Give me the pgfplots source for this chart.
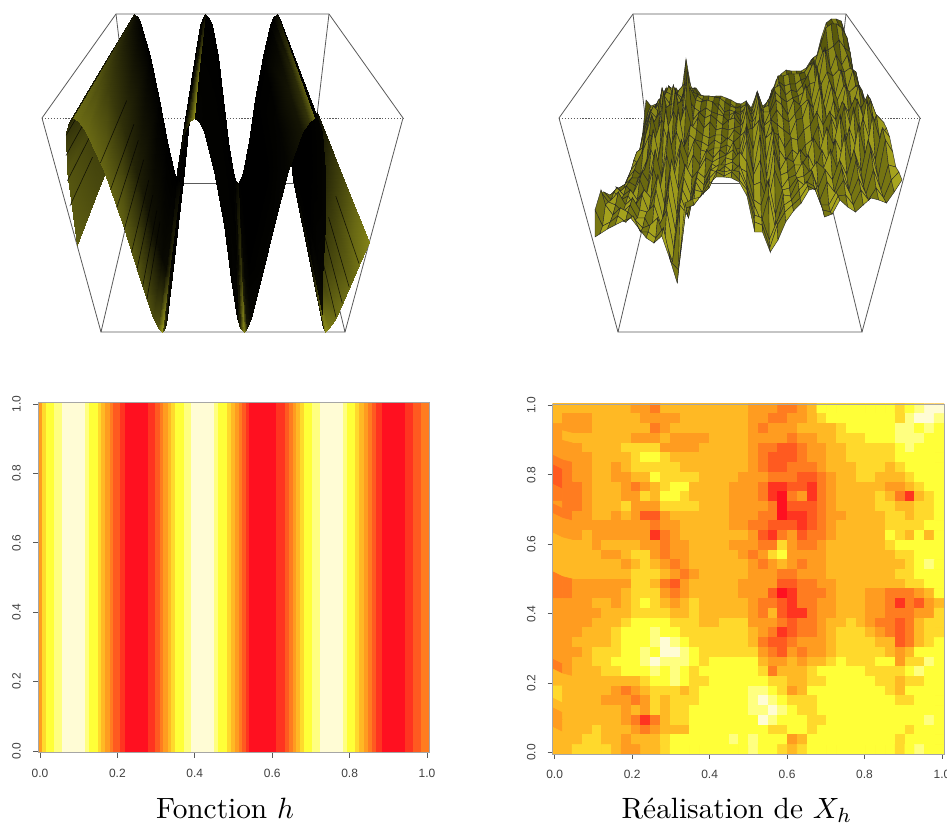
\documentclass[border=0pt]{standalone}
\usepackage{fontspec}
\usepackage{pgfplots}
\usepackage{pgfplotstable}
\pgfplotsset{compat=1.18}
\newfontfamily\ticksf{Liberation Sans}
\definecolor{boxc}{HTML}{5A5A5A}
\definecolor{hk0}{HTML}{FF1020}
\definecolor{hk1}{HTML}{FF3420}
\definecolor{hk2}{HTML}{FF5A20}
\definecolor{hk3}{HTML}{FF7C20}
\definecolor{hk4}{HTML}{FF9C20}
\definecolor{hk5}{HTML}{FFB924}
\definecolor{hk6}{HTML}{FFD92C}
\definecolor{hk7}{HTML}{FFFF38}
\definecolor{hk8}{HTML}{FFFF80}
\definecolor{hk9}{HTML}{FFFCD5}
\pgfplotsset{
  colormap={hk}{rgb255=(255,16,32) rgb255=(255,52,32) rgb255=(255,90,32) rgb255=(255,124,32) rgb255=(255,156,32) rgb255=(255,185,36) rgb255=(255,217,44) rgb255=(255,255,56) rgb255=(255,255,128) rgb255=(255,252,213)},
  colormap={ol}{rgb255(0)=(0,0,0) rgb255(1)=(105,105,20) rgb255(2)=(190,190,30)},
  colormap={yl}{rgb255(0)=(85,85,10) rgb255(1)=(252,247,50)},
  heat/.style={
    scale only axis, anchor=south west, width=293.5pt, height=262.5pt,
    xtick={0,0.2,0.4,0.6,0.8,1}, ytick={0,0.2,0.4,0.6,0.8,1},
    tick pos=left, tick align=outside, major tick length=3.75pt,
    tick style={color=boxc,line width=0.5pt},
    axis line style={color=gray!70,line width=0.5pt},
    /pgf/number format/fixed, /pgf/number format/fixed zerofill, /pgf/number format/precision=1,
    /pgf/number format/assume math mode=true,
    tick label style={font=\ticksf\fontsize{9}{10}\selectfont,color=black!75,inner sep=0pt},
    xticklabel style={yshift=-8.5pt},
    yticklabel style={xshift=-9pt,rotate=90,anchor=south},
    axis on top,
  },
}
\newcommand{\band}[3]{\addplot[fill=hk#3,draw=none,forget plot] coordinates {(#1,-0.1)(#2,-0.1)(#2,1.1)(#1,1.1)} --cycle;}
\newcommand{\Lx}{222.5+(2*\thisrow{u}-1)*((1-\thisrow{v})*(\thisrow{z}*180.5+(1-\thisrow{z})*122)+\thisrow{v}*(\thisrow{z}*106.5+(1-\thisrow{z})*86.5))}
\newcommand{\Ly}{(1-\thisrow{v})*(\thisrow{z}*118+(1-\thisrow{z})*332)+\thisrow{v}*(\thisrow{z}*14+(1-\thisrow{z})*183)}
\newcommand{\lobe}[1]{\addplot[surf,shader=interp,mesh/cols=3,colormap name=ol,point meta=\thisrow{c},point meta min=0,point meta max=2] table[x expr=\Lx,y expr=\Ly] {#1};}
\newcommand{\streak}[3]{\addplot[black,opacity=0.75,line width=0.45pt] table[row sep=\\,x expr=\Lx,y expr=\Ly] {u v z\\ #1 0 #2\\ #1 #3 #2\\};}
\pgfplotstableread{
u v z c
0 0 .405 .9
0 .4 .405 .7
0 1 .405 .5
.0303 0 .75 .8
.0303 .4 .75 .6
.0303 1 .75 .3
.058 0 .933 .5
.058 .4 .933 .4
.058 1 .933 .2
.0722 0 .983 .3
.0722 .4 .983 .25
.0722 1 .983 .1
.086 0 1 .25
.086 .4 1 .2
.086 1 1 .1
}\lobeA
\pgfplotstableread{
u v z c
.086 0 1 1.05
.086 .4 1 .8
.086 1 1 .15
.0999 0 .983 1.0
.0999 .4 .983 .7
.0999 1 .983 .05
.1138 0 .933 1.0
.1138 .4 .933 .6
.1138 1 .933 .02
.1417 0 .75 .95
.1417 .4 .75 .45
.1417 1 .75 0
.1695 0 .5 .9
.1695 .4 .5 .3
.1695 1 .5 0
.1973 0 .25 .8
.1973 .4 .25 .15
.1973 1 .25 0
.2252 0 .067 .7
.2252 .4 .067 .08
.2252 1 .067 0
.2391 0 .017 .8
.2391 .4 .017 .1
.2391 1 .017 0
.253 0 0 1.5
.253 .4 0 .4
.253 1 0 .05
}\lobeB
\pgfplotstableread{
u v z c
.253 0 0 .9
.253 .4 0 .2
.253 1 0 0
.2669 0 .017 .3
.2669 .4 .017 .05
.2669 1 .017 0
.2808 0 .067 .1
.2808 .4 .067 .02
.2808 1 .067 0
.3087 0 .25 .03
.3087 .4 .25 0
.3087 1 .25 0
.3365 0 .5 .03
.3365 .4 .5 0
.3365 1 .5 0
.3643 0 .75 .03
.3643 .4 .75 .02
.3643 1 .75 0
.3922 0 .933 .2
.3922 .4 .933 .05
.3922 1 .933 0
.4061 0 .983 .6
.4061 .4 .983 .3
.4061 1 .983 0
.42 0 1 1.4
.42 .4 1 1.0
.42 1 1 .1
}\lobeC
\pgfplotstableread{
u v z c
.42 0 1 .05
.42 .4 1 .02
.42 1 1 0
.4339 0 .983 .03
.4339 .4 .983 .02
.4339 1 .983 0
.4478 0 .933 .02
.4478 .4 .933 .02
.4478 1 .933 0
.4757 0 .75 .02
.4757 .4 .75 .02
.4757 1 .75 0
.5035 0 .5 .02
.5035 .4 .5 .02
.5035 1 .5 0
.5313 0 .25 .02
.5313 .4 .25 .02
.5313 1 .25 0
.5592 0 .067 .05
.5592 .4 .067 .02
.5592 1 .067 0
.5731 0 .017 .4
.5731 .4 .017 .1
.5731 1 .017 0
.587 0 0 1.4
.587 .4 0 .5
.587 1 0 .1
}\lobeD
\pgfplotstableread{
u v z c
.587 0 0 1.2
.587 .4 0 .3
.587 1 0 0
.6009 0 .017 .2
.6009 .4 .017 .05
.6009 1 .017 0
.6148 0 .067 .05
.6148 .4 .067 0
.6148 1 .067 0
.6427 0 .25 .03
.6427 .4 .25 0
.6427 1 .25 0
.6705 0 .5 .03
.6705 .4 .5 0
.6705 1 .5 0
.6983 0 .75 .05
.6983 .4 .75 .03
.6983 1 .75 0
.7262 0 .933 .2
.7262 .4 .933 .2
.7262 1 .933 0
.7401 0 .983 .5
.7401 .4 .983 .4
.7401 1 .983 0
.754 0 1 1.0
.754 .4 1 .8
.754 1 1 .1
}\lobeE
\pgfplotstableread{
u v z c
.754 0 1 .3
.754 .4 1 .1
.754 1 1 0
.7679 0 .983 .1
.7679 .4 .983 .02
.7679 1 .983 0
.7818 0 .933 .03
.7818 .4 .933 0
.7818 1 .933 0
.8097 0 .75 .03
.8097 .4 .75 0
.8097 1 .75 0
.8375 0 .5 .03
.8375 .4 .5 0
.8375 1 .5 0
.8653 0 .25 .05
.8653 .4 .25 0
.8653 1 .25 0
.8932 0 .067 .15
.8932 .4 .067 .02
.8932 1 .067 0
.9071 0 .017 .3
.9071 .4 .017 .05
.9071 1 .017 0
.921 0 0 1.3
.921 .4 0 .2
.921 1 0 0
}\lobeF
\pgfplotstableread{
u v z c
.921 0 0 1.5
.921 .4 0 .45
.921 1 0 .02
.9349 0 .017 1.2
.9349 .4 .017 .45
.9349 1 .017 .02
.9488 0 .067 1.05
.9488 .4 .067 .55
.9488 1 .067 .02
.9766 0 .25 1.0
.9766 .4 .25 .65
.9766 1 .25 .05
1 0 .42 1.3
1 .4 .42 .8
1 1 .42 .1
}\lobeG
\begin{document}
\begin{tikzpicture}
\useasboundingbox (0,0) rectangle (710.25pt,618pt);
\begin{axis}[at={(0pt,0pt)},anchor=south west,scale only axis,width=710.25pt,height=618pt,
  xmin=0,xmax=947,ymin=0,ymax=824,y dir=reverse,hide axis,clip=false]
% boite de gauche puis de droite
\addplot[boxc,dash pattern=on 0.9pt off 1.3pt,line width=0.55pt] coordinates {(42,118)(403,118)};
\addplot[boxc,line width=0.6pt] coordinates {(136,183)(309,183)};
\addplot[boxc,line width=0.6pt] coordinates {(116,14)(136,183)(101,332)(345,332)(309,183)(329,14)};
\addplot[boxc,line width=0.6pt] coordinates {(101,332)(42,118)(116,14)(329,14)(403,118)(345,332)};
\addplot[boxc,dash pattern=on 0.9pt off 1.3pt,line width=0.55pt] coordinates {(559,118)(920,118)};
\addplot[boxc,line width=0.6pt] coordinates {(653,183)(826,183)};
\addplot[boxc,line width=0.6pt] coordinates {(633,14)(653,183)(618,332)(862,332)(826,183)(846,14)};
\addplot[boxc,line width=0.6pt] coordinates {(618,332)(559,118)(633,14)(846,14)(920,118)(862,332)};
% surface h
\lobe{\lobeA}
\streak{.012}{.588}{.4}
\streak{.025}{.706}{.4}
\streak{.04}{.824}{.4}
\streak{.055}{.919}{.4}
\lobe{\lobeG}
\streak{.95}{.07}{.5}
\streak{.961}{.135}{.5}
\streak{.9716}{.21}{.5}
\streak{.985}{.32}{.5}
\lobe{\lobeF}
\lobe{\lobeE}
\lobe{\lobeD}
\lobe{\lobeC}
\lobe{\lobeB}
\streak{.137}{.79}{.55}
\streak{.152}{.665}{.55}
\streak{.161}{.58}{.55}
\streak{.172}{.477}{.55}
\streak{.183}{.37}{.55}
\streak{.192}{.29}{.55}
\streak{.2024}{.21}{.55}
\streak{.2107}{.15}{.55}
% realisation : rangees du fond vers l'avant, ordonnees en pixels
\addplot[surf,shader=flat corner,draw=black!85,line width=0.3pt,mesh/cols=41,colormap name=yl,
  point meta={mod(mod(\coordindex,41),2)*0.55+floor(\coordindex/41)/18*0.45},point meta min=0,point meta max=1]
 table[header=false,row sep=\\,
  x expr={592+3*(18-floor(\coordindex/41))+mod(\coordindex,41)/40*(310-6.1*(18-floor(\coordindex/41)))},
  y expr=\thisrowno{0}] {
100\\106\\104\\98\\88\\88\\88\\96\\59\\88\\88\\95\\97\\97\\96\\96\\98\\100\\103\\104\\101\\108\\95\\108\\103\\96\\80\\74\\70\\71\\71\\71\\68\\60\\58\\38\\23\\19\\19\\21\\37\\
130\\112\\112\\100\\98\\86\\96\\90\\84\\90\\88\\98\\100\\99\\100\\100\\104\\104\\108\\106\\106\\110\\100\\106\\106\\90\\82\\78\\76\\76\\76\\74\\70\\58\\54\\40\\28\\24\\26\\32\\60\\
160\\125\\110\\108\\100\\92\\95\\94\\98\\78\\92\\95\\96\\96\\97\\98\\102\\106\\108\\108\\104\\112\\93\\110\\102\\92\\76\\76\\74\\74\\74\\72\\64\\62\\45\\28\\24\\24\\28\\38\\80\\
164\\135\\122\\106\\112\\96\\104\\92\\100\\86\\96\\96\\100\\102\\104\\104\\112\\110\\112\\112\\108\\108\\102\\112\\100\\94\\82\\86\\84\\84\\80\\78\\66\\68\\52\\50\\46\\40\\48\\52\\88\\
168\\150\\128\\112\\118\\88\\112\\85\\105\\92\\88\\100\\102\\100\\102\\108\\115\\115\\112\\115\\105\\112\\92\\108\\105\\88\\85\\95\\90\\92\\85\\75\\62\\78\\48\\70\\55\\65\\55\\70\\95\\
172\\152\\148\\122\\122\\112\\108\\104\\104\\100\\100\\108\\112\\108\\112\\114\\116\\122\\112\\122\\112\\114\\104\\112\\112\\92\\98\\102\\98\\96\\92\\84\\82\\84\\72\\76\\70\\72\\68\\72\\100\\
178\\160\\165\\135\\115\\138\\92\\135\\90\\128\\70\\120\\112\\118\\115\\120\\125\\120\\118\\125\\102\\120\\95\\125\\112\\100\\105\\115\\100\\105\\85\\100\\70\\105\\80\\95\\70\\90\\70\\85\\105\\
184\\170\\162\\150\\135\\138\\120\\128\\112\\125\\105\\128\\118\\128\\122\\130\\128\\130\\128\\126\\118\\122\\112\\125\\120\\110\\118\\122\\114\\106\\100\\108\\88\\110\\86\\100\\86\\92\\86\\90\\110\\
190\\178\\170\\175\\160\\130\\158\\110\\150\\110\\145\\125\\130\\135\\138\\135\\135\\140\\130\\135\\110\\135\\100\\140\\120\\125\\130\\135\\120\\118\\100\\125\\90\\125\\100\\118\\85\\110\\85\\105\\115\\
188\\184\\178\\178\\170\\150\\165\\128\\148\\132\\150\\135\\140\\142\\146\\140\\144\\138\\142\\136\\130\\128\\120\\138\\132\\135\\148\\138\\140\\130\\125\\112\\125\\112\\120\\102\\112\\98\\108\\95\\117\\
187\\192\\182\\186\\172\\182\\150\\178\\130\\165\\140\\158\\140\\150\\152\\148\\148\\145\\150\\148\\125\\150\\118\\160\\128\\150\\160\\150\\155\\145\\140\\125\\148\\118\\135\\105\\128\\100\\120\\100\\118\\
190\\192\\186\\194\\180\\195\\168\\190\\155\\180\\150\\172\\155\\165\\150\\158\\150\\155\\142\\160\\128\\172\\135\\178\\138\\170\\158\\162\\150\\158\\138\\150\\128\\145\\115\\142\\108\\135\\100\\122\\120\\
196\\188\\195\\190\\200\\190\\198\\175\\205\\160\\190\\165\\178\\170\\158\\162\\158\\155\\150\\162\\140\\175\\160\\195\\150\\175\\172\\165\\165\\155\\170\\150\\165\\140\\155\\128\\148\\118\\140\\115\\122\\
195\\192\\200\\196\\206\\195\\212\\190\\218\\175\\215\\178\\195\\172\\178\\164\\168\\158\\160\\152\\162\\185\\182\\205\\170\\188\\178\\175\\162\\172\\162\\168\\150\\170\\135\\165\\125\\158\\115\\138\\128\\
192\\200\\192\\205\\198\\210\\212\\205\\225\\195\\230\\190\\205\\178\\185\\170\\165\\165\\162\\168\\172\\200\\205\\180\\215\\190\\188\\178\\176\\170\\188\\170\\180\\160\\175\\150\\172\\140\\160\\128\\137\\
192\\202\\205\\212\\205\\218\\218\\232\\225\\210\\250\\198\\218\\182\\194\\170\\172\\166\\172\\165\\185\\205\\222\\195\\232\\195\\196\\180\\186\\172\\200\\182\\192\\168\\190\\160\\186\\150\\178\\140\\152\\
190\\205\\215\\208\\212\\220\\228\\225\\218\\240\\262\\205\\215\\190\\192\\178\\170\\172\\170\\172\\188\\215\\218\\240\\222\\205\\200\\190\\182\\186\\205\\205\\192\\180\\196\\178\\194\\170\\190\\165\\167\\
210\\226\\222\\216\\222\\216\\232\\232\\238\\228\\262\\270\\208\\205\\195\\188\\172\\176\\172\\180\\190\\222\\225\\248\\225\\212\\205\\198\\186\\190\\210\\212\\196\\195\\205\\190\\200\\188\\198\\180\\172\\
237\\234\\229\\225\\221\\218\\228\\238\\243\\236\\258\\283\\203\\199\\197\\185\\177\\177\\178\\182\\196\\232\\232\\252\\240\\222\\211\\203\\190\\188\\217\\214\\200\\207\\212\\205\\198\\200\\203\\192\\180\\
};
\node[scale=2.2,anchor=base] at (axis cs:225,818) {Fonction $h$};
\node[scale=2.2,anchor=base] at (axis cs:737,818) {Réalisation de $X_h$};
\end{axis}
\begin{axis}[heat,at={(28.5pt,53.5pt)},xmin=-0.005,xmax=1.006,ymin=-0.005,ymax=1.004]
\band{-0.01}{0.005}{4}\band{0.005}{0.0154}{6}\band{0.0154}{0.0369}{7}\band{0.0369}{0.0558}{8}\band{0.0558}{0.117}{9}
\band{0.117}{0.128}{8}\band{0.128}{0.149}{7}\band{0.149}{0.158}{6}\band{0.158}{0.1686}{5}\band{0.1686}{0.18}{4}
\band{0.18}{0.19}{3}\band{0.19}{0.207}{2}\band{0.207}{0.2185}{1}\band{0.2185}{0.278}{0}\band{0.278}{0.298}{1}
\band{0.298}{0.309}{2}\band{0.309}{0.319}{3}\band{0.319}{0.330}{4}\band{0.330}{0.339}{5}\band{0.339}{0.349}{6}
\band{0.349}{0.371}{7}\band{0.371}{0.390}{8}\band{0.390}{0.450}{9}\band{0.450}{0.461}{8}\band{0.461}{0.483}{7}
\band{0.483}{0.493}{6}\band{0.493}{0.504}{5}\band{0.504}{0.515}{4}\band{0.515}{0.523}{3}\band{0.523}{0.532}{2}
\band{0.532}{0.541}{1}\band{0.541}{0.610}{0}\band{0.610}{0.633}{1}\band{0.633}{0.644}{2}\band{0.644}{0.655}{3}
\band{0.655}{0.662}{4}\band{0.662}{0.672}{5}\band{0.672}{0.6824}{6}\band{0.6824}{0.702}{7}\band{0.702}{0.724}{8}
\band{0.724}{0.784}{9}\band{0.784}{0.793}{8}\band{0.793}{0.814}{7}\band{0.814}{0.825}{6}\band{0.825}{0.836}{5}
\band{0.836}{0.847}{4}\band{0.847}{0.857}{3}\band{0.857}{0.868}{2}\band{0.868}{0.884}{1}\band{0.884}{0.943}{0}
\band{0.943}{0.965}{1}\band{0.965}{0.984}{2}\band{0.984}{1.01}{3}
\end{axis}
\begin{axis}[heat,at={(414.5pt,52.5pt)},xmin=-0.005,xmax=1.005,ymin=-0.004,ymax=1.004]
\addplot[fill=hk5,draw=none,forget plot] coordinates {(-0.1,-0.1)(1.1,-0.1)(1.1,1.1)(-0.1,1.1)} --cycle;
\addplot[matrix plot*,mesh/cols=40,colormap name=hk,colormap access=direct,point meta=\thisrowno{0}]
 table[header=false,row sep=\\,
  x expr={-0.005+(mod(\coordindex,40)+0.5)*1.01/40},
  y expr={1.004-(floor(\coordindex/40)+0.5)*1.008/36}] {
5\\5\\5\\5\\5\\5\\5\\5\\4\\4\\3\\5\\5\\5\\5\\5\\5\\5\\5\\5\\4\\4\\4\\3\\3\\4\\5\\7\\7\\7\\7\\7\\7\\7\\7\\6\\7\\8\\9\\9\\
5\\4\\4\\4\\5\\5\\5\\5\\5\\4\\4\\4\\4\\5\\5\\5\\5\\5\\5\\5\\4\\4\\3\\3\\4\\4\\5\\6\\7\\7\\7\\7\\7\\7\\7\\6\\8\\9\\9\\8\\
4\\4\\4\\4\\5\\5\\5\\5\\5\\5\\3\\4\\5\\5\\5\\5\\5\\5\\5\\5\\4\\3\\4\\4\\4\\5\\5\\5\\5\\6\\7\\7\\7\\7\\7\\8\\8\\7\\8\\7\\
4\\5\\5\\5\\5\\5\\5\\5\\4\\4\\4\\5\\4\\4\\4\\4\\5\\5\\5\\5\\4\\4\\4\\4\\3\\4\\4\\5\\5\\6\\6\\6\\7\\7\\7\\8\\8\\8\\7\\7\\
4\\4\\4\\5\\5\\5\\5\\6\\6\\6\\6\\4\\4\\4\\4\\5\\5\\5\\5\\5\\4\\3\\3\\2\\2\\3\\4\\4\\5\\5\\6\\6\\6\\6\\6\\7\\8\\7\\7\\7\\
4\\4\\4\\4\\5\\5\\5\\5\\6\\7\\7\\6\\5\\5\\5\\5\\5\\5\\5\\5\\4\\3\\2\\2\\2\\3\\4\\4\\5\\5\\6\\6\\6\\6\\6\\7\\7\\7\\7\\7\\
3\\3\\4\\4\\5\\5\\4\\5\\6\\6\\6\\6\\6\\5\\5\\5\\5\\5\\5\\5\\4\\3\\2\\2\\3\\3\\3\\4\\5\\5\\5\\6\\6\\6\\5\\6\\7\\7\\7\\7\\
2\\3\\4\\4\\5\\5\\4\\4\\5\\5\\7\\6\\6\\6\\6\\5\\5\\5\\5\\4\\4\\4\\3\\3\\3\\2\\2\\3\\4\\5\\5\\6\\6\\5\\5\\5\\6\\7\\7\\7\\
2\\3\\3\\4\\5\\5\\5\\4\\3\\4\\5\\6\\7\\7\\5\\5\\5\\5\\4\\4\\4\\3\\1\\1\\2\\2\\1\\3\\4\\5\\5\\5\\5\\5\\4\\4\\5\\6\\7\\7\\
3\\3\\3\\4\\5\\5\\5\\4\\4\\6\\5\\7\\7\\6\\5\\5\\5\\5\\4\\4\\4\\3\\1\\0\\3\\4\\1\\3\\4\\5\\5\\5\\5\\6\\5\\3\\1\\5\\6\\7\\
4\\3\\3\\4\\5\\5\\5\\6\\4\\4\\4\\6\\6\\6\\6\\5\\5\\5\\4\\4\\4\\4\\3\\0\\2\\2\\2\\3\\4\\5\\5\\5\\5\\6\\6\\5\\5\\6\\6\\7\\
3\\3\\4\\4\\5\\5\\4\\5\\4\\2\\2\\4\\5\\5\\5\\5\\5\\5\\4\\4\\4\\3\\3\\0\\1\\1\\2\\3\\4\\4\\5\\5\\5\\5\\6\\6\\5\\6\\6\\7\\
4\\4\\4\\4\\4\\4\\4\\4\\4\\4\\3\\4\\4\\5\\5\\5\\5\\5\\4\\4\\3\\3\\2\\2\\2\\1\\2\\3\\4\\5\\5\\5\\5\\5\\6\\6\\6\\6\\7\\7\\
4\\4\\4\\5\\4\\4\\4\\4\\4\\4\\1\\3\\4\\5\\5\\5\\5\\5\\5\\5\\4\\2\\1\\3\\4\\2\\3\\3\\4\\5\\5\\5\\5\\5\\7\\6\\5\\7\\5\\7\\
5\\5\\5\\5\\4\\5\\5\\5\\5\\4\\4\\3\\4\\4\\5\\5\\5\\5\\4\\4\\4\\3\\3\\6\\4\\3\\3\\4\\5\\5\\5\\5\\5\\5\\6\\7\\7\\7\\7\\7\\
5\\5\\5\\5\\5\\4\\4\\5\\6\\6\\4\\3\\4\\4\\5\\5\\5\\5\\5\\4\\3\\4\\6\\7\\4\\4\\4\\4\\5\\5\\5\\5\\5\\5\\5\\6\\6\\7\\7\\7\\
5\\5\\5\\5\\5\\5\\5\\4\\5\\6\\5\\4\\3\\4\\5\\5\\5\\5\\5\\5\\4\\3\\4\\5\\4\\3\\4\\4\\5\\5\\5\\5\\5\\5\\5\\5\\6\\7\\8\\7\\
5\\5\\5\\5\\5\\5\\5\\5\\6\\6\\6\\5\\4\\3\\4\\5\\5\\5\\5\\5\\4\\4\\4\\3\\3\\4\\4\\4\\5\\5\\5\\5\\5\\5\\5\\6\\6\\7\\7\\7\\
3\\3\\4\\4\\4\\4\\4\\4\\6\\6\\5\\3\\2\\4\\5\\5\\5\\5\\5\\4\\4\\4\\4\\2\\2\\3\\3\\4\\4\\5\\5\\5\\5\\5\\5\\5\\6\\6\\7\\7\\
3\\3\\4\\4\\4\\4\\4\\5\\6\\6\\6\\4\\3\\4\\5\\5\\5\\5\\5\\4\\4\\4\\2\\0\\1\\3\\3\\3\\4\\5\\5\\5\\4\\4\\3\\3\\3\\4\\5\\7\\
4\\4\\4\\4\\5\\5\\4\\5\\6\\7\\6\\5\\4\\5\\6\\5\\5\\5\\5\\5\\4\\3\\3\\2\\1\\3\\3\\4\\4\\5\\5\\5\\4\\4\\3\\1\\3\\2\\4\\5\\
4\\4\\4\\4\\4\\5\\5\\5\\6\\6\\6\\6\\5\\5\\6\\5\\5\\5\\5\\5\\4\\3\\5\\2\\1\\1\\3\\4\\4\\5\\5\\5\\4\\4\\3\\3\\3\\4\\4\\6\\
4\\4\\4\\4\\5\\5\\5\\6\\7\\7\\7\\7\\6\\6\\6\\5\\5\\6\\6\\6\\4\\4\\4\\3\\2\\3\\3\\4\\5\\5\\6\\5\\4\\3\\3\\2\\3\\5\\6\\6\\
4\\4\\4\\5\\5\\5\\6\\7\\7\\7\\8\\7\\7\\6\\6\\6\\6\\6\\6\\6\\5\\4\\3\\1\\2\\3\\3\\4\\5\\6\\6\\6\\5\\4\\3\\2\\3\\5\\6\\6\\
4\\4\\5\\5\\5\\5\\6\\7\\7\\7\\8\\9\\8\\7\\6\\6\\6\\6\\6\\6\\5\\3\\2\\2\\3\\4\\4\\4\\5\\6\\6\\6\\6\\5\\5\\2\\3\\5\\6\\7\\
4\\4\\4\\5\\6\\6\\6\\7\\7\\8\\7\\9\\9\\8\\7\\6\\6\\6\\6\\6\\6\\4\\3\\2\\4\\3\\4\\4\\5\\6\\6\\6\\6\\6\\5\\4\\5\\7\\7\\7\\
4\\4\\5\\5\\6\\6\\7\\7\\7\\8\\9\\8\\8\\8\\7\\6\\7\\7\\7\\7\\7\\5\\4\\4\\5\\4\\5\\5\\6\\7\\6\\6\\6\\7\\7\\4\\6\\6\\8\\7\\
3\\4\\5\\5\\5\\6\\6\\7\\7\\7\\8\\7\\8\\7\\6\\7\\7\\7\\7\\7\\7\\6\\3\\5\\5\\5\\6\\7\\7\\7\\7\\7\\6\\6\\6\\6\\7\\8\\7\\7\\
5\\5\\5\\5\\5\\5\\5\\5\\5\\6\\7\\7\\8\\7\\6\\6\\7\\7\\7\\7\\7\\7\\6\\6\\5\\5\\6\\6\\7\\7\\7\\7\\7\\6\\6\\5\\6\\6\\7\\7\\
6\\5\\5\\5\\5\\5\\4\\3\\4\\5\\6\\6\\6\\5\\6\\7\\7\\7\\7\\7\\8\\8\\7\\6\\4\\5\\7\\7\\7\\7\\7\\7\\7\\7\\6\\5\\7\\7\\7\\7\\
6\\5\\5\\5\\5\\4\\4\\4\\3\\4\\6\\5\\6\\6\\6\\7\\7\\7\\7\\7\\8\\9\\8\\7\\6\\6\\6\\7\\7\\7\\7\\7\\7\\7\\7\\6\\6\\7\\7\\7\\
5\\5\\5\\5\\5\\5\\5\\4\\5\\4\\6\\5\\6\\6\\7\\7\\7\\7\\7\\7\\8\\8\\9\\8\\7\\6\\6\\7\\7\\7\\7\\7\\7\\7\\7\\7\\7\\7\\7\\7\\
4\\5\\5\\5\\5\\5\\5\\4\\3\\1\\3\\5\\6\\6\\7\\7\\7\\7\\7\\7\\7\\9\\8\\7\\7\\7\\6\\6\\7\\7\\7\\7\\7\\7\\7\\7\\7\\7\\8\\7\\
4\\5\\5\\5\\6\\5\\5\\5\\4\\3\\4\\5\\5\\5\\7\\7\\7\\7\\7\\7\\7\\7\\6\\6\\7\\7\\6\\7\\7\\7\\7\\7\\7\\7\\7\\7\\6\\7\\7\\7\\
5\\5\\5\\6\\6\\5\\5\\4\\5\\5\\5\\6\\7\\7\\7\\7\\7\\7\\8\\7\\8\\7\\7\\7\\4\\5\\7\\7\\7\\7\\7\\7\\7\\7\\7\\6\\7\\7\\7\\7\\
5\\5\\6\\6\\6\\6\\5\\4\\4\\5\\5\\6\\7\\7\\7\\7\\7\\7\\7\\7\\8\\7\\7\\6\\5\\6\\7\\7\\7\\7\\7\\7\\7\\7\\7\\6\\7\\8\\7\\7\\
};
\end{axis}
\end{tikzpicture}
\end{document}
